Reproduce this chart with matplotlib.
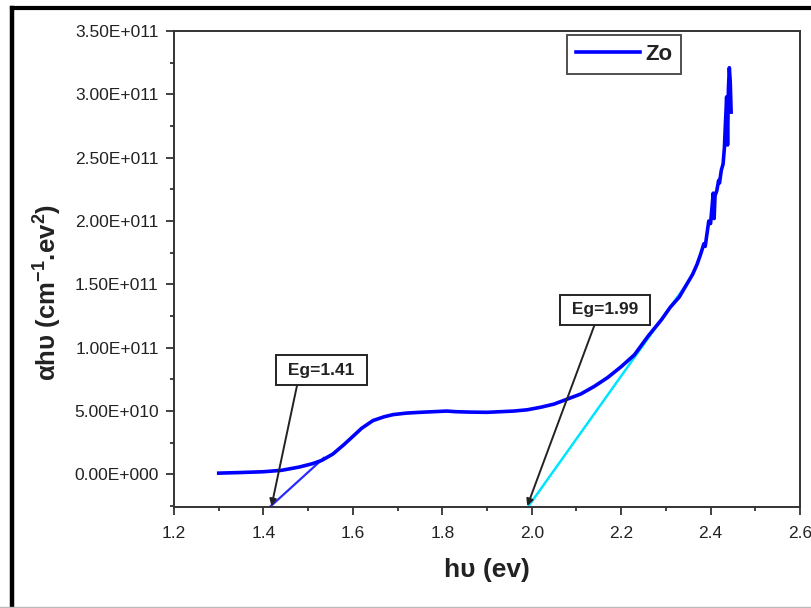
import matplotlib
matplotlib.use("Agg")
import matplotlib.pyplot as plt
from matplotlib.lines import Line2D
from matplotlib.ticker import FixedLocator, MultipleLocator

plt.rcParams['font.family'] = ['Liberation Sans', 'DejaVu Sans']
plt.rcParams['mathtext.fontset'] = 'custom'
plt.rcParams['mathtext.rm'] = 'Liberation Sans:bold'
plt.rcParams['mathtext.bf'] = 'Liberation Sans:bold'
plt.rcParams['mathtext.it'] = 'Liberation Sans:bold'

# ---- data ----
hv = [1.30, 1.35, 1.40, 1.44, 1.48, 1.51, 1.53, 1.555, 1.58, 1.60, 1.62, 1.645,
      1.67, 1.69, 1.72, 1.75, 1.78, 1.81, 1.83, 1.86, 1.90, 1.93, 1.96, 1.99,
      2.02, 2.05, 2.08, 2.11, 2.14, 2.17, 2.20, 2.23, 2.26, 2.29, 2.31, 2.33,
      2.35, 2.36, 2.37, 2.378, 2.385, 2.388, 2.392, 2.396, 2.400, 2.403, 2.406,
      2.408, 2.410, 2.414, 2.418, 2.420, 2.424, 2.428, 2.431, 2.433, 2.436,
      2.438, 2.440, 2.442, 2.444, 2.446]
ahv = [1.0e9, 1.5e9, 2.1e9, 3.2e9, 5.8e9, 8.5e9, 1.1e10, 1.6e10, 2.35e10, 3.0e10,
       3.65e10, 4.25e10, 4.55e10, 4.72e10, 4.84e10, 4.9e10, 4.95e10, 5.0e10,
       4.95e10, 4.92e10, 4.9e10, 4.95e10, 5.0e10, 5.1e10, 5.3e10, 5.55e10,
       5.95e10, 6.35e10, 6.95e10, 7.65e10, 8.5e10, 9.45e10, 1.09e11, 1.22e11,
       1.32e11, 1.40e11, 1.52e11, 1.58e11, 1.66e11, 1.74e11, 1.82e11, 1.80e11,
       1.90e11, 2.00e11, 1.98e11, 2.10e11, 2.22e11, 2.02e11, 2.20e11, 2.24e11,
       2.32e11, 2.30e11, 2.40e11, 2.45e11, 2.58e11, 2.75e11, 2.98e11, 2.60e11,
       3.05e11, 3.21e11, 3.10e11, 2.86e11]

tan1_x = [1.415, 1.535]
tan1_y = [-2.55e10, 1.30e10]
tan2_x = [1.992, 2.35]
tan2_y = [-2.55e10, 1.52e11]

eg_labels = ["Eg=1.41", "Eg=1.99"]
eg_text_pos = [(1.53, 8.24e10), (2.164, 1.30e11)]
eg_arrow_start = [(1.475, 7.0e10), (2.14, 1.175e11)]
eg_arrow_tip = [(1.418, -2.5e10), (1.99, -2.5e10)]

xticks = [1.2, 1.4, 1.6, 1.8, 2.0, 2.2, 2.4, 2.6]
xtick_labels = ["1.2", "1.4", "1.6", "1.8", "2.0", "2.2", "2.4", "2.6"]
yticks = [0.0, 5.0e10, 1.0e11, 1.5e11, 2.0e11, 2.5e11, 3.0e11, 3.5e11]
ytick_labels = ["0.00E+000", "5.00E+010", "1.00E+011", "1.50E+011",
                "2.00E+011", "2.50E+011", "3.00E+011", "3.50E+011"]

# ---- figure ----
fig = plt.figure(figsize=(8.12, 6.08), dpi=100)
ax = fig.add_axes([0.2143, 0.1666, 0.7709, 0.7824])

ax.plot(tan1_x, tan1_y, color='#2a2aff', lw=1.6, zorder=2)
ax.plot(tan2_x, tan2_y, color='#00e5ff', lw=1.8, zorder=2)
ax.plot(hv, ahv, color='#0000ff', lw=2.6, label='Zo', zorder=3)

for lab, tp, st, tip in zip(eg_labels, eg_text_pos, eg_arrow_start, eg_arrow_tip):
    ax.annotate('', xy=tip, xytext=st,
                arrowprops=dict(arrowstyle='-|>', color='#222222', lw=1.4,
                                mutation_scale=10, shrinkA=0, shrinkB=0),
                zorder=4)
    ax.text(tp[0], tp[1], ' ' + lab + ' ', fontsize=12.5, fontweight='bold',
            color='#222222', ha='center', va='center', zorder=5,
            bbox=dict(boxstyle='square,pad=0.42', fc='white', ec='#222222', lw=1.4))

ax.set_xlim(1.2, 2.6)
ax.set_ylim(-2.55e10, 3.5e11)
ax.xaxis.set_major_locator(FixedLocator(xticks))
ax.set_xticklabels(xtick_labels)
ax.xaxis.set_minor_locator(MultipleLocator(0.1))
ax.yaxis.set_major_locator(FixedLocator(yticks))
ax.set_yticklabels(ytick_labels)
ax.yaxis.set_minor_locator(MultipleLocator(2.5e10))

ax.tick_params(which='major', direction='out', length=6, width=1.3, labelsize=12.5,
               colors='#333333', labelcolor='#222222', pad=5)
ax.tick_params(axis='x', which='major', pad=8)
ax.tick_params(which='minor', direction='out', length=3, width=1.3, colors='#333333')
for sp in ax.spines.values():
    sp.set_linewidth(1.4)
    sp.set_color('#333333')

ax.set_xlabel('h\u03c5 (ev)', fontsize=19, fontweight='bold', color='#222222')
ax.xaxis.set_label_coords(0.5, -0.108)
ax.set_ylabel('\u03b1h\u03c5 (cm$^{-1}$.ev$^{2}$)', fontsize=18.5, fontweight='bold',
              color='#222222')
ax.yaxis.set_label_coords(-0.176, 0.451)

leg = ax.legend(loc='upper left', bbox_to_anchor=(0.628, 0.992),
                prop={'weight': 'bold', 'size': 16}, handlelength=2.9,
                fancybox=False, frameon=True, borderpad=0.4, handletextpad=0.2,
                borderaxespad=0)
leg.get_frame().set_edgecolor('#222222')
leg.get_frame().set_linewidth(1.4)
for t in leg.get_texts():
    t.set_color('#222222')
for h in leg.get_lines():
    h.set_linewidth(2.6)

# outer frame of the original graph window
fig.add_artist(Line2D([11.7 / 812, 11.7 / 812], [0, 1 - 7.8 / 608],
                      transform=fig.transFigure, color='black', lw=3.2))
fig.add_artist(Line2D([11.7 / 812, 1], [1 - 7.8 / 608, 1 - 7.8 / 608],
                      transform=fig.transFigure, color='black', lw=3.0))
fig.add_artist(Line2D([0, 1], [1.5 / 608, 1.5 / 608],
                      transform=fig.transFigure, color='#bbbbbb', lw=1.0))

fig.savefig('out.png', dpi=100)
